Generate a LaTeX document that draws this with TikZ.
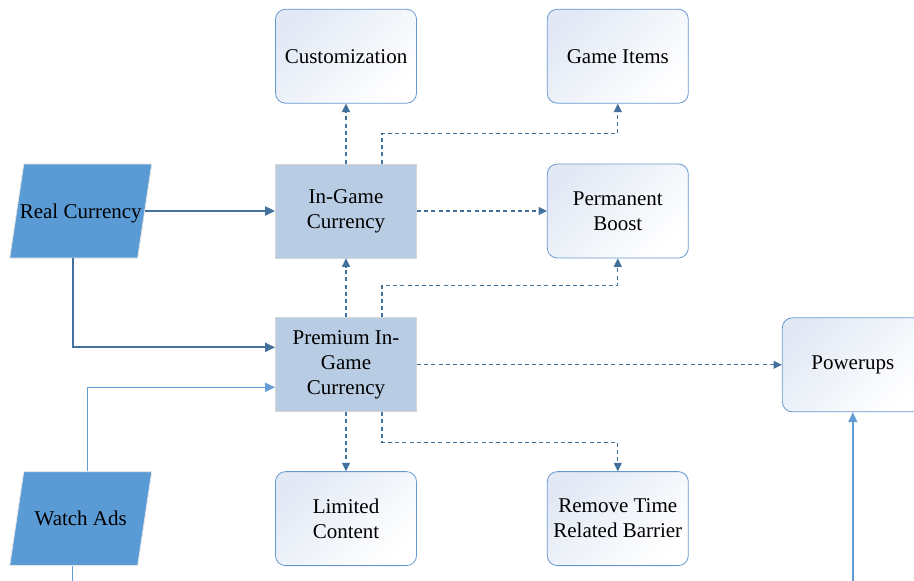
\documentclass[tikz,border=0pt]{standalone}
\usepackage{fontspec}
\setmainfont{Liberation Serif}
\usetikzlibrary{arrows.meta, positioning, shapes.geometric}
\definecolor{srcfill}{RGB}{91,155,213}
\definecolor{curfill}{RGB}{184,204,228}
\definecolor{goalline}{RGB}{104,152,208}
\definecolor{goaltop}{RGB}{226,233,245}
\definecolor{darkflow}{RGB}{65,113,156}
\definecolor{lightflow}{RGB}{100,156,214}

\begin{document}
\begin{tikzpicture}[
  font=\fontsize{10.5}{12.5}\selectfont,
  cur/.style={draw=black!16, fill=curfill, align=center, inner sep=2pt,
              minimum width=70.5pt, minimum height=47pt},
  goal/.style={draw=goalline, rounded corners=5pt, align=center, inner sep=2pt,
               top color=goaltop, bottom color=white, shading angle=45,
               minimum width=70.5pt, minimum height=47pt},
  src/.style={trapezium, trapezium left angle=81.5, trapezium right angle=98.5,
              trapezium stretches body=true, draw=black!10, fill=srcfill,
              inner xsep=-3pt, inner ysep=1pt, text height=26pt, text depth=19pt,
              minimum width=71pt},
  buy/.style={-{Triangle[length=5pt, width=4.5pt]}, line width=1pt, darkflow},
  ads/.style={-{Triangle[length=5pt, width=4.5pt]}, line width=0.7pt, lightflow},
  spend/.style={-{Triangle[length=4.2pt, width=4pt]}, line width=0.55pt, darkflow,
                dash pattern=on 2pt off 1.6pt},
  node distance=30pt and 65pt]

  \clip (0,0) rectangle (457pt,-290pt);

  % currency column
  \node[cur] at (173pt,-105.5pt) (igc) {In-Game\\ Currency};
  \node[cur, below=29.5pt of igc] (pgc) {Premium In-\\ Game\\ Currency};

  % sources
  \node[src, left=65pt of igc] (rc) {Real Currency};

  % rewards
  \node[goal, above=of igc] (custom) {Customization};
  \node[goal, right=of igc] (boost) {Permanent\\ Boost};
  \node[goal, above=of boost] (items) {Game Items};
  \node[goal, below=29.5pt of pgc] (limited) {Limited\\ Content};
  \node[goal, right=of limited] (barrier) {Remove Time\\ Related Barrier};
  \node[goal, right=182.5pt of pgc] (power) {Powerups};
  \node[src, left=65pt of limited] (ads) {Watch Ads};

  % flows
  \draw[buy] (rc.east) -- (igc.west);
  \draw[buy] ([xshift=-4pt]rc.south) |- ([yshift=8.75pt]pgc.west);
  \draw[ads] ([xshift=3.5pt]ads.north) |- ([yshift=-11.25pt]pgc.west);
  \draw[ads] ([xshift=-4pt]ads.south) -- ++(0,-20pt) -| (power.south);

  \draw[spend] (igc) -- (custom);
  \draw[spend] ([xshift=18pt]igc.north) -- ++(0,15pt) -| (items.south);
  \draw[spend] (igc) -- (boost);
  \draw[spend] (pgc) -- (igc);
  \draw[spend] ([xshift=18pt]pgc.north) -- ++(0,16pt) -| (boost.south);
  \draw[spend] (pgc) -- (power);
  \draw[spend] (pgc) -- (limited);
  \draw[spend] ([xshift=18pt]pgc.south) -- ++(0,-15pt) -| (barrier.north);
\end{tikzpicture}
\end{document}
